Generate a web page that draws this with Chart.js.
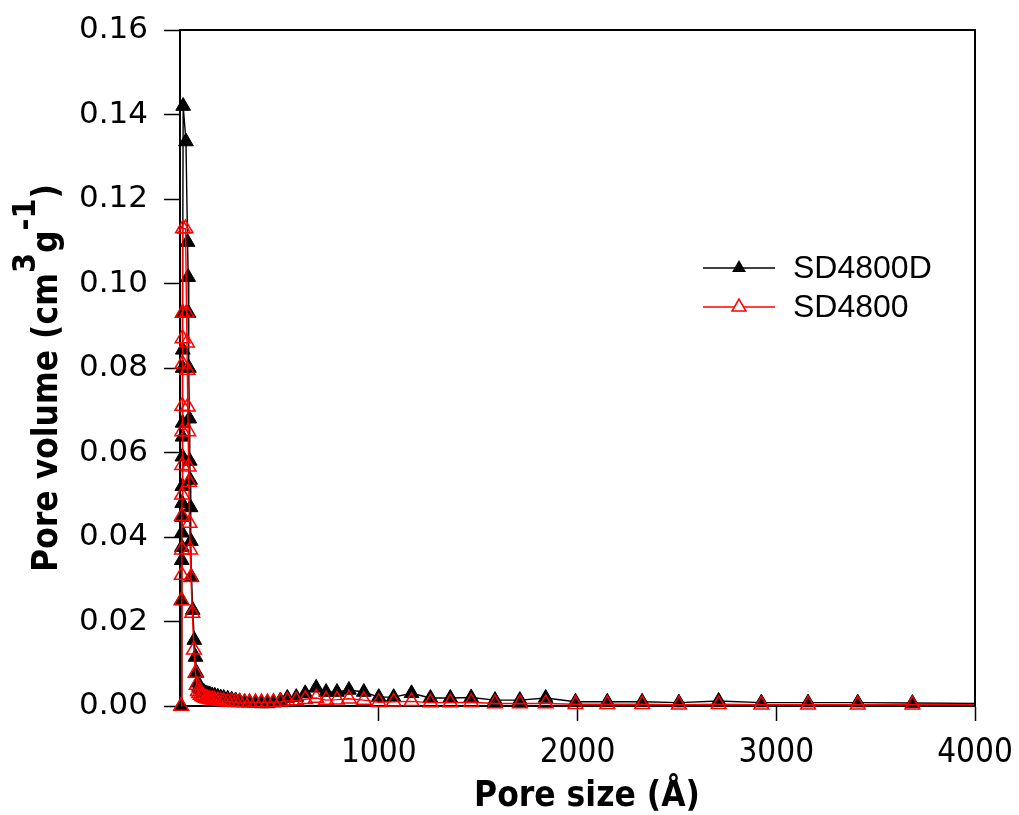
<!DOCTYPE html>
<html>
<head>
<meta charset="utf-8">
<script src="https://cdn.jsdelivr.net/npm/chart.js@4.4.0/dist/chart.umd.min.js"></script>
<style>
  body { margin: 0; background: #fff; }
  #wrap { width: 1019px; height: 815px; }
</style>
</head>
<body>
<div id="wrap"><canvas id="chart" width="1019" height="815"></canvas></div>
<script>
// pore size (A) and pore volume
const sizeD = [6, 8, 9, 9.5, 10, 10.5, 11, 11.5, 12, 12.5, 13, 13.5, 14, 14.5, 16,
  30, 38, 41, 43, 45, 47, 49, 51, 53, 55, 58, 64, 72, 78, 84, 90, 96, 104, 112, 120,
  130, 140, 150, 162, 175, 190, 205, 220, 240, 260, 280, 300, 325, 350, 380, 410, 440, 470,
  505, 540, 585, 630, 685, 735, 790, 850, 925, 1000, 1075, 1165, 1260, 1360, 1465,
  1585, 1710, 1840, 1990, 2150, 2325, 2510, 2710, 2925, 3160, 3410, 3685, 4100];
const volD = [0, 0.025, 0.0345, 0.0376, 0.041, 0.0447, 0.048, 0.052, 0.059, 0.0637, 0.067, 0.080, 0.0843, 0.093, 0.142,
  0.1336, 0.1098, 0.1015, 0.093, 0.080, 0.068, 0.058, 0.0535, 0.047, 0.039, 0.0305, 0.0227, 0.0156, 0.0116, 0.0078, 0.0055, 0.0045, 0.0040, 0.0036, 0.0033,
  0.0030, 0.0028, 0.0027, 0.0025, 0.0024, 0.0022, 0.0020, 0.0019, 0.0017, 0.0015, 0.0013, 0.0011, 0.0009, 0.0008, 0.0007, 0.0006, 0.0006, 0.0008,
  0.0013, 0.0019, 0.0021, 0.0030, 0.0043, 0.0033, 0.0033, 0.0038, 0.0033, 0.0021, 0.0021, 0.0030, 0.0019, 0.0019, 0.0020,
  0.0014, 0.0014, 0.0019, 0.0010, 0.0010, 0.0010, 0.0008, 0.0012, 0.0008, 0.0008, 0.0008, 0.0007, 0.0006];

const sizeS = [6, 8, 9, 9.5, 10, 10.5, 11, 11.5, 12, 12.5, 13, 13.5, 15,
  28, 33, 35, 37, 39, 41, 43, 45, 48, 51, 55, 62, 70, 78, 84, 90, 96, 104, 112, 120,
  130, 140, 150, 162, 175, 190, 205, 220, 240, 260, 280, 300, 325, 350, 380, 410, 440, 470,
  505, 540, 585, 630, 685, 735, 790, 850, 925, 1000, 1075, 1165, 1260, 1360, 1465,
  1585, 1710, 1840, 1990, 2150, 2325, 2510, 2710, 2925, 3160, 3410, 3685, 4100];
const volS = [0, 0.025, 0.031, 0.037, 0.045, 0.050, 0.057, 0.065, 0.071, 0.081, 0.087, 0.093, 0.113,
  0.113, 0.093, 0.086, 0.0795, 0.0708, 0.065, 0.0566, 0.053, 0.0433, 0.037, 0.0305, 0.022, 0.0133, 0.0078, 0.0050, 0.0035, 0.0030, 0.0026, 0.0023, 0.0021,
  0.0019, 0.0017, 0.0016, 0.0015, 0.0014, 0.0013, 0.0012, 0.0011, 0.0010, 0.0010, 0.0009, 0.0009, 0.0008, 0.0008, 0.0008, 0.0008, 0.0008, 0.0009,
  0.0010, 0.0012, 0.0013, 0.0016, 0.0019, 0.0014, 0.0015, 0.0017, 0.0014, 0.0009, 0.0010, 0.0011, 0.0008, 0.0008, 0.0009,
  0.0006, 0.0006, 0.0006, 0.0004, 0.0004, 0.0004, 0.0003, 0.0004, 0.0003, 0.0003, 0.0003, 0.0003, 0.0003];

const seriesNames = ['SD4800D', 'SD4800'];
const xTicks = [0, 1000, 2000, 3000, 4000];
const yTicks = [0, 0.02, 0.04, 0.06, 0.08, 0.10, 0.12, 0.14, 0.16];

function toPoints(xs, ys) {
  return xs.map((x, i) => ({ x: x, y: ys[i] }));
}

function triangle(ctx, x, y, r) {
  ctx.beginPath();
  ctx.moveTo(x, y - r);
  ctx.lineTo(x + r * 0.866, y + r * 0.5);
  ctx.lineTo(x - r * 0.866, y + r * 0.5);
  ctx.closePath();
}

// frame, axis titles and legend
const extras = {
  id: 'extras',
  afterDraw(chart) {
    const ctx = chart.ctx;
    const a = chart.chartArea;
    ctx.save();
    ctx.strokeStyle = '#000';
    ctx.lineWidth = 2;
    ctx.beginPath();
    ctx.moveTo(a.left, a.top);
    ctx.lineTo(a.right, a.top);
    ctx.lineTo(a.right, a.bottom);
    ctx.stroke();

    // x title
    ctx.fillStyle = '#000';
    ctx.font = 'bold 35px "DejaVu Sans Condensed"';
    ctx.textAlign = 'center';
    ctx.textBaseline = 'alphabetic';
    ctx.fillText('Pore size (\u00c5)', 587, 806);

    // y title with superscripts
    const parts = [['Pore volume (cm', 0], ['3', 1], ['g', 0], ['-1', 1], [')', 0]];
    const big = 'bold 35px "DejaVu Sans Condensed"';
    const small = 'bold 32px "DejaVu Sans Condensed"';
    let total = 0;
    parts.forEach(p => { ctx.font = p[1] ? small : big; total += ctx.measureText(p[0]).width; });
    ctx.translate(57, 378);
    ctx.rotate(-Math.PI / 2);
    ctx.textAlign = 'left';
    let px = -total / 2;
    parts.forEach(p => {
      ctx.font = p[1] ? small : big;
      ctx.fillText(p[0], px, p[1] ? -22 : 0);
      px += ctx.measureText(p[0]).width;
    });
    ctx.setTransform(1, 0, 0, 1, 0, 0);

    // legend
    const rows = [
      { y: 268, color: '#000', fill: true },
      { y: 307, color: '#ff0000', fill: false }
    ];
    ctx.font = '32px "Liberation Sans"';
    ctx.textBaseline = 'middle';
    rows.forEach((r, i) => {
      ctx.strokeStyle = r.color;
      ctx.lineWidth = 1.3;
      ctx.beginPath();
      ctx.moveTo(703, r.y);
      ctx.lineTo(775, r.y);
      ctx.stroke();
      triangle(ctx, 739, r.y, 8);
      if (r.fill) {
        ctx.fillStyle = r.color;
        ctx.fill();
      } else {
        ctx.fillStyle = '#fff';
        ctx.fill();
        ctx.lineWidth = 1.5;
        ctx.stroke();
      }
      ctx.fillStyle = '#000';
      ctx.fillText(seriesNames[i], 793, r.y + 1);
    });
    ctx.restore();
  }
};

const canvas = document.getElementById('chart').getContext('2d');

let config = {
  type: 'scatter',
  data: {
    datasets: [{
      label: seriesNames[0],
      data: toPoints(sizeD, volD),
      showLine: true,
      borderColor: '#000',
      borderWidth: 1.4,
      pointStyle: 'triangle',
      pointRadius: 8.5,
      pointBackgroundColor: '#000',
      pointBorderColor: '#000',
      pointBorderWidth: 1,
      clip: { left: 12, top: 12, right: 0, bottom: 15 },
      order: 2
    }, {
      label: seriesNames[1],
      data: toPoints(sizeS, volS),
      showLine: true,
      borderColor: '#ff0000',
      borderWidth: 1.4,
      pointStyle: 'triangle',
      pointRadius: 8.5,
      pointBackgroundColor: 'rgba(0,0,0,0)',
      pointBorderColor: '#ff0000',
      pointBorderWidth: 1.5,
      clip: { left: 12, top: 12, right: 0, bottom: 15 },
      order: 1
    }]
  },
  options: {
    responsive: false,
    animation: false,
    events: [],
    layout: { padding: { top: 30, right: 44, left: 0, bottom: 0 } },
    scales: {
      x: {
        type: 'linear',
        min: 0,
        max: 4000,
        afterFit: s => { s.height = 109; s.paddingLeft = 0; s.paddingRight = 0; },
        afterBuildTicks: s => { s.ticks = xTicks.map(v => ({ value: v })); },
        border: { display: true, color: '#000', width: 2 },
        grid: {
          drawOnChartArea: false,
          tickLength: 15,
          tickWidth: 1.5,
          tickColor: c => (c.tick && c.tick.value === 0 ? 'rgba(0,0,0,0)' : '#000')
        },
        ticks: {
          color: '#000',
          padding: 13,
          maxRotation: 0,
          font: { family: 'DejaVu Sans Condensed', size: 33 },
          callback: v => (v === 0 ? '' : v)
        }
      },
      y: {
        min: 0,
        max: 0.16,
        afterFit: s => { s.width = 180; s.paddingTop = 0; s.paddingBottom = 0; },
        afterBuildTicks: s => { s.ticks = yTicks.map(v => ({ value: v })); },
        border: { display: true, color: '#000', width: 2 },
        grid: {
          drawOnChartArea: false,
          tickLength: 16,
          tickWidth: 1.5,
          tickColor: '#000'
        },
        ticks: {
          color: '#000',
          padding: 16,
          font: { family: 'DejaVu Sans', size: 31 },
          callback: v => v.toFixed(2)
        }
      }
    },
    plugins: {
      legend: { display: false },
      tooltip: { enabled: false }
    }
  },
  plugins: [extras]
};

const myChart = new Chart(canvas, config);
</script>
</body>
</html>
